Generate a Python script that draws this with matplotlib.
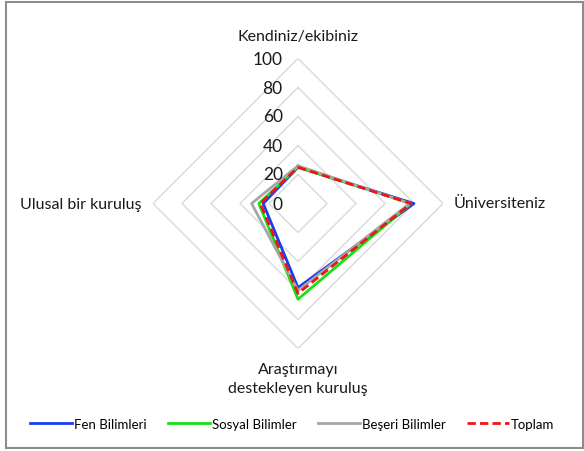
import numpy as np
import matplotlib
matplotlib.use("Agg")
import matplotlib.pyplot as plt
from matplotlib.patches import Rectangle

plt.rcParams["font.family"] = ["Lato", "DejaVu Sans"]

categories = ["Kendiniz/ekibiniz", "Üniversiteniz",
              "Araştırmayı\ndestekleyen kuruluş", "Ulusal bir kuruluş"]
series_names = ["Fen Bilimleri", "Sosyal Bilimler", "Beşeri Bilimler", "Toplam"]
fen = [25, 80, 58, 24]
sosyal = [25, 78, 66, 27]
beseri = [26, 77, 60, 32]
toplam = [25, 78, 62, 26]
rticks = [0, 20, 40, 60, 80, 100]

W, H = 584, 452
fig = plt.figure(figsize=(W / 100, H / 100), dpi=100)

# outer border
fig.patches.append(Rectangle((6 / W, 3 / H), (583 - 6) / W, (449 - 3) / H,
                             transform=fig.transFigure, fill=False,
                             edgecolor="#8c8c8c", lw=1.5))

cx, cy, R = 298, 204.5, 145
ax = fig.add_axes([(cx - R) / W, (H - cy - R) / H, 2 * R / W, 2 * R / H],
                  projection="polar")
ax.set_theta_offset(np.pi / 2)
ax.set_theta_direction(-1)
ax.set_ylim(0, 100)
ax.grid(False)
ax.spines["polar"].set_visible(False)
ax.set_xticks([])
ax.set_yticks([])
ax.patch.set_alpha(0)

angles = np.arange(len(categories)) * 2 * np.pi / len(categories)
closed = np.append(angles, angles[0])

for r in rticks[1:]:
    ax.plot(closed, [r] * len(closed), color="#d9d9d9", lw=1, zorder=1)

styles = [("#1a3cf0", "-"), ("#16e016", "-"), ("#a6a6a6", "-"), ("#f01414", "--")]
for vals, (c, ls), name in zip([fen, sosyal, beseri, toplam], styles, series_names):
    v = np.append(vals, vals[0])
    ax.plot(closed, v, color=c, ls=ls, lw=2.0, label=name, zorder=3,
            dashes=(3, 1.5) if ls == "--" else (None, None))

for r in rticks:
    ax.annotate(str(r), xy=(0, r), xytext=(-11, 0), textcoords="offset points",
                ha="right", va="center", fontsize=12.5, color="#1a1a1a")

# category labels
lab = dict(fontsize=11.5, color="#1a1a1a", textcoords="offset points")
ax.annotate(categories[0], xy=(0, 100), xytext=(0, 11), ha="center", va="bottom", **lab)
ax.annotate(categories[1], xy=(angles[1], 100), xytext=(8, 0), ha="left", va="center", **lab)
ax.annotate(categories[2], xy=(angles[2], 100), xytext=(0, -10), ha="center", va="top",
            linespacing=1.4, **lab)
ax.annotate(categories[3], xy=(angles[3], 100), xytext=(-8, 0), ha="right", va="center", **lab)

fig.legend(loc="center", bbox_to_anchor=(0.5, (H - 425) / H), ncol=4, frameon=False,
           fontsize=9.5, handlelength=3.2, handletextpad=0.15, columnspacing=1.6)

fig.savefig("out.png", dpi=100)
